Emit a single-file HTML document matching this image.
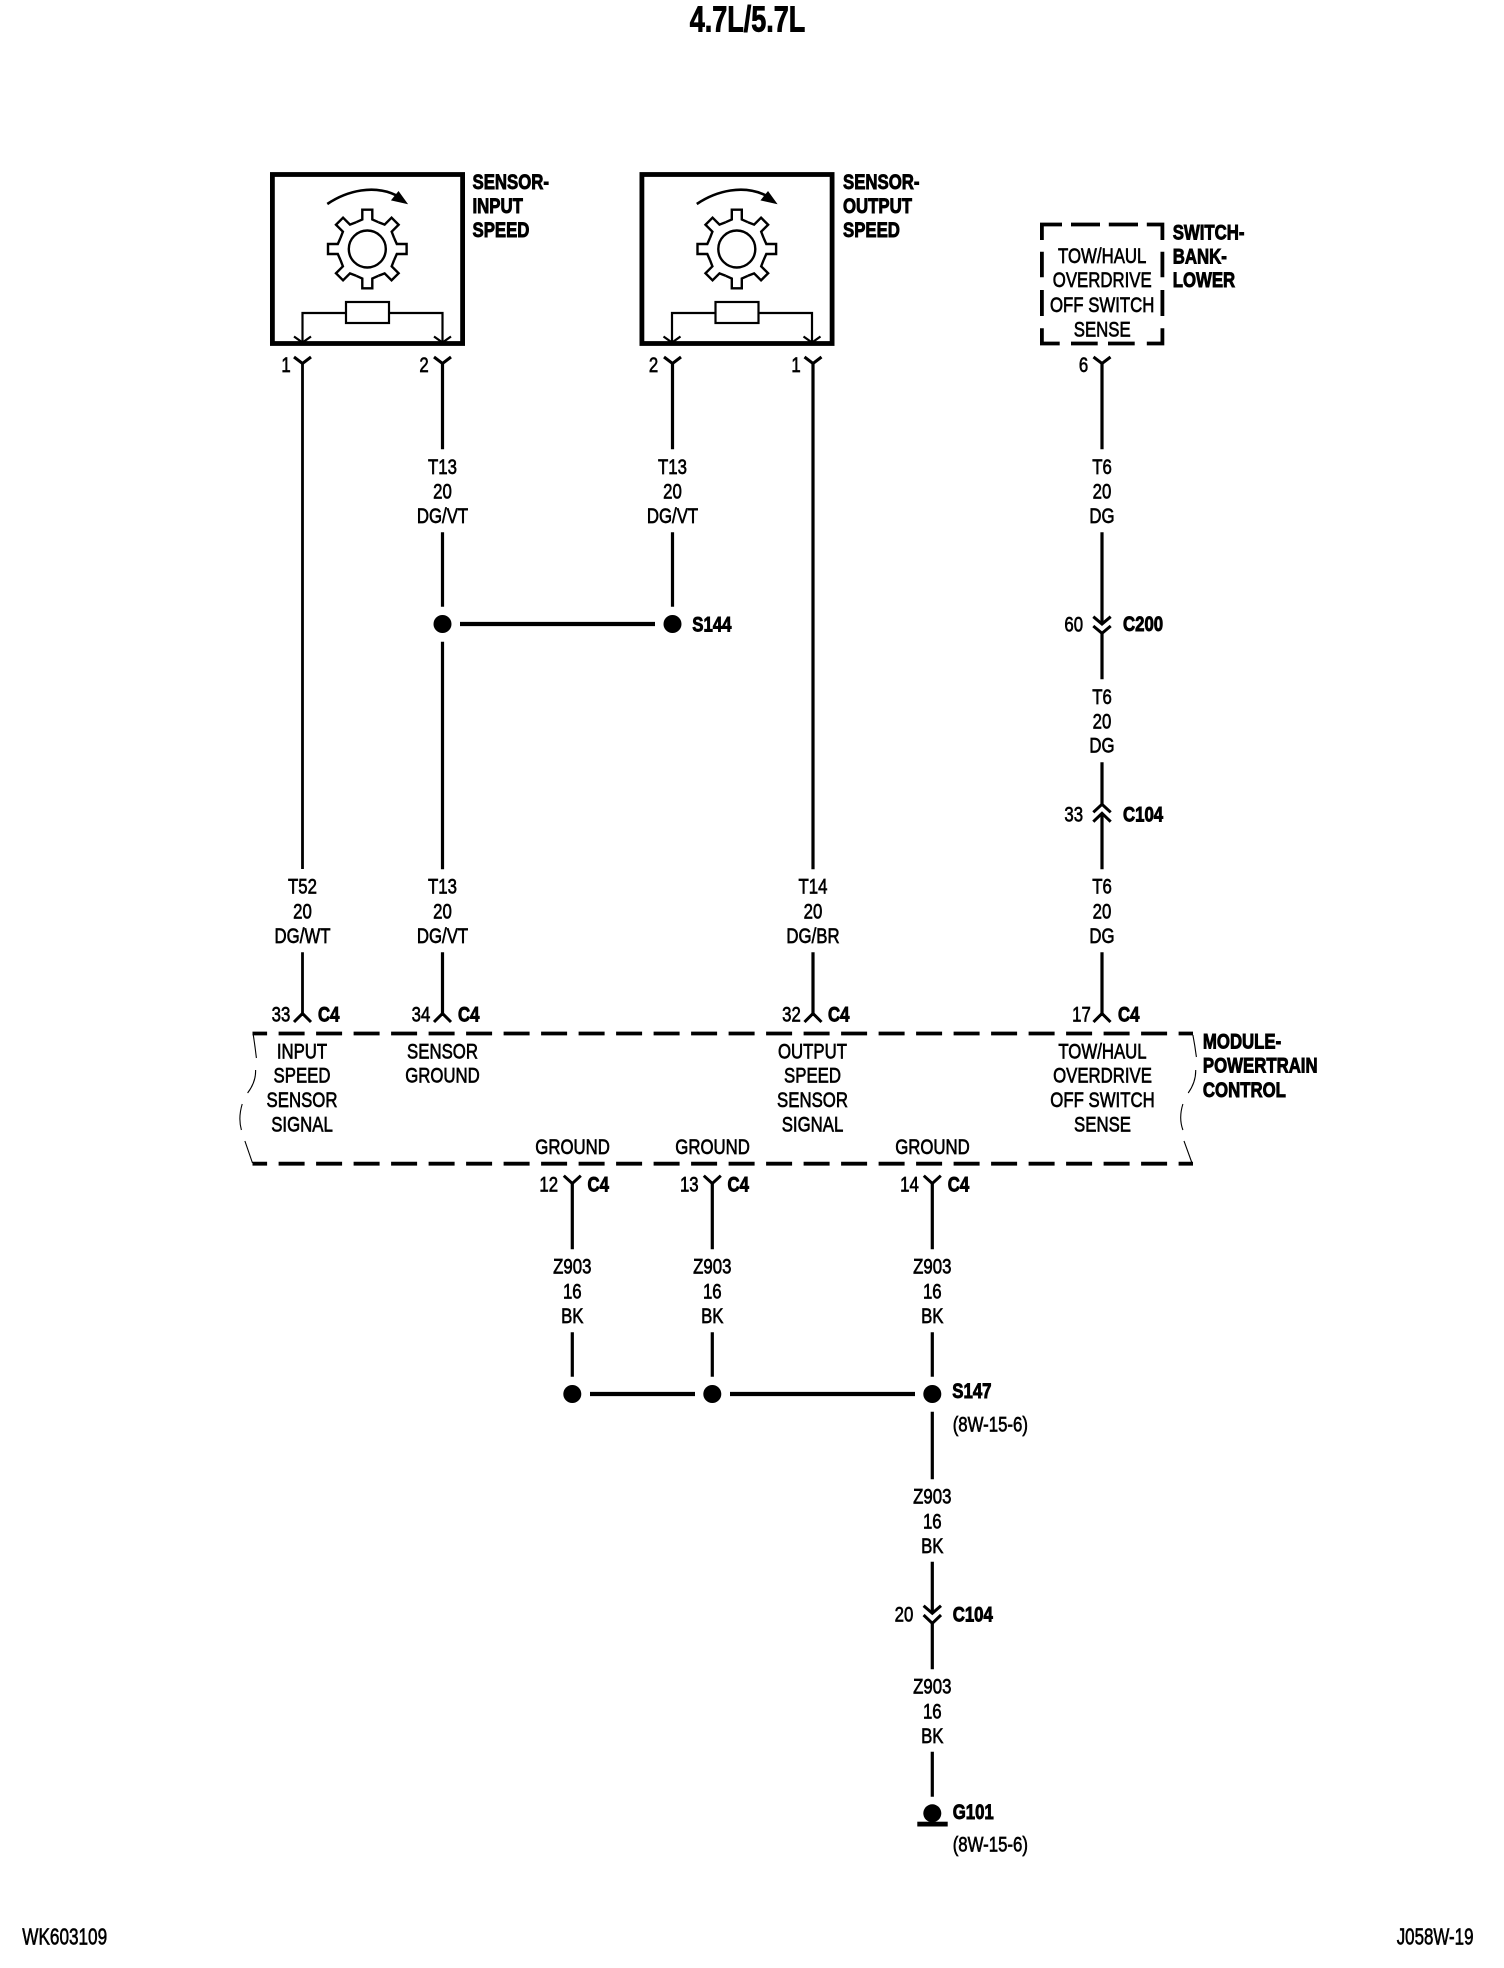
<!DOCTYPE html>
<html><head><meta charset="utf-8"><title>4.7L/5.7L</title>
<style>
html,body{margin:0;padding:0;background:#fff}
svg{display:block}
text{font-family:"Liberation Sans",sans-serif;font-size:21px;fill:#000;text-anchor:middle;stroke:#000;stroke-width:.65px}
.b{font-weight:bold;stroke-width:.9px}
.s{text-anchor:start}
.w{fill:none;stroke:#000;stroke-width:3.2}
.c{fill:none;stroke:#000;stroke-width:3}
.t{fill:none;stroke:#000;stroke-width:2.2}
.d{fill:none;stroke:#000;stroke-width:3.8}
.q{fill:none;stroke:#000;stroke-width:1.1}
</style></head><body>
<svg xmlns="http://www.w3.org/2000/svg" width="1504" height="1968" viewBox="0 0 1504 1968">
<defs>
<g id="sensor">
<rect x="272.4" y="174.5" width="190.2" height="169" fill="none" stroke="#000" stroke-width="4.8"/>
<path d="M327.3 204C345 192 375 182 401 198" fill="none" stroke="#000" stroke-width="2.6"/>
<path d="M406.7 203.3L398.5 192L392 200Z" fill="#000" stroke="#000" stroke-width="1.2"/>
<g transform="translate(367.3,249)" fill="none" stroke="#000" stroke-width="2.4">
<circle r="18.5"/>
<polyline points="-11.1,-26.8 -5,-29.5 -5,-39.3 5,-39.3 5,-29.5 11.1,-26.8"/>
<polyline transform="rotate(45)" points="-11.1,-26.8 -5,-29.5 -5,-39.3 5,-39.3 5,-29.5 11.1,-26.8"/>
<polyline transform="rotate(90)" points="-11.1,-26.8 -5,-29.5 -5,-39.3 5,-39.3 5,-29.5 11.1,-26.8"/>
<polyline transform="rotate(135)" points="-11.1,-26.8 -5,-29.5 -5,-39.3 5,-39.3 5,-29.5 11.1,-26.8"/>
<polyline transform="rotate(180)" points="-11.1,-26.8 -5,-29.5 -5,-39.3 5,-39.3 5,-29.5 11.1,-26.8"/>
<polyline transform="rotate(225)" points="-11.1,-26.8 -5,-29.5 -5,-39.3 5,-39.3 5,-29.5 11.1,-26.8"/>
<polyline transform="rotate(270)" points="-11.1,-26.8 -5,-29.5 -5,-39.3 5,-39.3 5,-29.5 11.1,-26.8"/>
<polyline transform="rotate(315)" points="-11.1,-26.8 -5,-29.5 -5,-39.3 5,-39.3 5,-29.5 11.1,-26.8"/>
</g>
<rect x="346" y="302" width="43" height="21" class="t"/>
<path d="M346 313H302.5V342M389 313H442.5V342" class="t"/>
<path d="M294 336.5L302.5 342.5L311 336.5M434 336.5L442.5 342.5L451 336.5" class="t"/>
</g>
</defs>

<text class="b" style="font-size:36px" transform="matrix(.75 0 0 1 747.5 31.5)">4.7L/5.7L</text>

<use href="#sensor"/>
<use href="#sensor" transform="translate(369.5,0)"/>

<g transform="translate(0,-1)">
<text class="b s" transform="matrix(.8 0 0 1 472.5 190)">SENSOR-</text>
<text class="b s" transform="matrix(.8 0 0 1 472.5 214)">INPUT</text>
<text class="b s" transform="matrix(.8 0 0 1 472.5 238)">SPEED</text>
<text class="b s" transform="matrix(.8 0 0 1 843 190)">SENSOR-</text>
<text class="b s" transform="matrix(.8 0 0 1 843 214)">OUTPUT</text>
<text class="b s" transform="matrix(.8 0 0 1 843 238)">SPEED</text>
</g>

<!-- switch bank dashed box -->
<path class="d" d="M1041.9 240V224.5H1062M1071 224.5H1100M1108.8 224.5H1138M1146.8 224.5H1162.4V240M1041.9 251.7V277.3M1041.9 290V316M1041.9 328.3V343.5H1059.7M1071 343.5H1097.7M1108 343.5H1134.7M1146.8 343.5H1162.4V328.3M1162.4 251.7V277.3M1162.4 290V316"/>
<g transform="translate(0,-1)">
<text transform="matrix(.8 0 0 1 1102.2 264)">TOW/HAUL</text>
<text transform="matrix(.8 0 0 1 1102.2 288)">OVERDRIVE</text>
<text transform="matrix(.8 0 0 1 1102.2 313)">OFF SWITCH</text>
<text transform="matrix(.8 0 0 1 1102.2 337.5)">SENSE</text>
<text class="b s" transform="matrix(.8 0 0 1 1172.7 240.7)">SWITCH-</text>
<text class="b s" transform="matrix(.8 0 0 1 1172.7 264.7)">BANK-</text>
<text class="b s" transform="matrix(.8 0 0 1 1172.7 288)">LOWER</text>
</g>

<!-- top connectors -->
<path class="c" d="M294 357L302.5 363.5L311 357M434 357L442.5 363.5L451 357M664 357L672.5 363.5L681 357M804.5 357L813 363.5L821.5 357M1093.5 357L1102 363.5L1110.5 357"/>
<text transform="matrix(.8 0 0 1 286 372)">1</text>
<text transform="matrix(.8 0 0 1 424 372)">2</text>
<text transform="matrix(.8 0 0 1 653.5 372)">2</text>
<text transform="matrix(.8 0 0 1 796 372)">1</text>
<text transform="matrix(.8 0 0 1 1083.5 372)">6</text>

<!-- wires -->
<path class="w" style="stroke-width:2.8" d="M302.5 363V869M302.5 952.3V1013.5"/>
<path class="w" d="M442.5 363V449.3M442.5 532.3V606.7M442.5 641.7V869.3M442.5 952.3V1013.5"/>
<path class="w" d="M672.5 363V449.3M672.5 532.3V606.7"/>
<path class="w" d="M813 363V869.3M813 952.3V1013.5"/>
<path class="w" d="M1102 363V449.3M1102 532.3V624M1102 633V679.3M1102 762.3V804M1102 813.5V869.3M1102 952.3V1013.5"/>
<path class="w" style="stroke-width:4.2" d="M460 624H655"/>
<circle cx="442.5" cy="624" r="9"/>
<circle cx="672.5" cy="624" r="9"/>
<text class="b s" transform="matrix(.8 0 0 1 692.3 631.5)">S144</text>

<!-- wire labels upper -->
<text transform="matrix(.8 0 0 1 442.5 474)">T13</text>
<text transform="matrix(.8 0 0 1 442.5 498.5)">20</text>
<text transform="matrix(.8 0 0 1 442.5 523)">DG/VT</text>
<text transform="matrix(.8 0 0 1 672.5 474)">T13</text>
<text transform="matrix(.8 0 0 1 672.5 498.5)">20</text>
<text transform="matrix(.8 0 0 1 672.5 523)">DG/VT</text>
<text transform="matrix(.8 0 0 1 1102 474)">T6</text>
<text transform="matrix(.8 0 0 1 1102 498.5)">20</text>
<text transform="matrix(.8 0 0 1 1102 523)">DG</text>

<!-- C200 / C104 inline -->
<path class="c" d="M1093.3 616.7L1102 624L1110.7 616.7M1093.3 626L1102 633.3L1110.7 626"/>
<text transform="matrix(.8 0 0 1 1073.7 631.5)">60</text>
<text class="b s" transform="matrix(.8 0 0 1 1123 631)">C200</text>
<text transform="matrix(.8 0 0 1 1102 704)">T6</text>
<text transform="matrix(.8 0 0 1 1102 728.5)">20</text>
<text transform="matrix(.8 0 0 1 1102 752.5)">DG</text>
<path class="c" d="M1093.3 812.3L1102 804.3L1110.7 812.3M1093.3 821.7L1102 813.3L1110.7 821.7"/>
<text transform="matrix(.8 0 0 1 1073.7 821.5)">33</text>
<text class="b s" transform="matrix(.8 0 0 1 1123 821.5)">C104</text>

<!-- wire labels lower -->
<g transform="translate(0,-.7)">
<text transform="matrix(.8 0 0 1 302.5 894)">T52</text>
<text transform="matrix(.8 0 0 1 302.5 919)">20</text>
<text transform="matrix(.8 0 0 1 302.5 943.5)">DG/WT</text>
<text transform="matrix(.8 0 0 1 442.5 894)">T13</text>
<text transform="matrix(.8 0 0 1 442.5 919)">20</text>
<text transform="matrix(.8 0 0 1 442.5 943.5)">DG/VT</text>
<text transform="matrix(.8 0 0 1 813 894)">T14</text>
<text transform="matrix(.8 0 0 1 813 919)">20</text>
<text transform="matrix(.8 0 0 1 813 943.5)">DG/BR</text>
<text transform="matrix(.8 0 0 1 1102 894)">T6</text>
<text transform="matrix(.8 0 0 1 1102 919)">20</text>
<text transform="matrix(.8 0 0 1 1102 943.5)">DG</text>
</g>

<!-- C4 top connectors -->
<path class="c" d="M294 1022L302.5 1013.5L311 1022M434 1022L442.5 1013.5L451 1022M804.5 1022L813 1013.5L821.5 1022M1093.5 1022L1102 1013.5L1110.5 1022"/>
<text transform="matrix(.8 0 0 1 281 1021.5)">33</text>
<text class="b s" transform="matrix(.8 0 0 1 318 1021.5)">C4</text>
<text transform="matrix(.8 0 0 1 421 1021.5)">34</text>
<text class="b s" transform="matrix(.8 0 0 1 458 1021.5)">C4</text>
<text transform="matrix(.8 0 0 1 791.5 1021.5)">32</text>
<text class="b s" transform="matrix(.8 0 0 1 828 1021.5)">C4</text>
<text transform="matrix(.8 0 0 1 1081.5 1021.5)">17</text>
<text class="b s" transform="matrix(.8 0 0 1 1118 1021.5)">C4</text>

<!-- PCM dashed box -->
<path class="d" stroke-dasharray="26 11.5" stroke-dashoffset="11.4" d="M252.5 1033.5H1193"/>
<path class="d" stroke-dasharray="26 11.5" stroke-dashoffset="11.4" d="M252.5 1163.7H1193"/>
<path class="q" d="M253.3 1035Q255 1046 256.4 1058M255.6 1070Q256 1082 247.6 1093M242.2 1104Q238 1118 241.4 1130M244.9 1141L252.5 1163"/>
<path class="q" d="M1192.9 1035Q1195 1046 1196.4 1057M1195.7 1070Q1196 1082 1188.2 1093M1182.9 1104Q1178.5 1118 1182.9 1130M1184 1141L1192 1163"/>

<g transform="translate(0,-1)">
<text transform="matrix(.8 0 0 1 302 1059.5)">INPUT</text>
<text transform="matrix(.8 0 0 1 302 1083.5)">SPEED</text>
<text transform="matrix(.8 0 0 1 302 1108)">SENSOR</text>
<text transform="matrix(.8 0 0 1 302 1132.5)">SIGNAL</text>
<text transform="matrix(.8 0 0 1 442.5 1059.5)">SENSOR</text>
<text transform="matrix(.8 0 0 1 442.5 1083.5)">GROUND</text>
<text transform="matrix(.8 0 0 1 812.5 1059.5)">OUTPUT</text>
<text transform="matrix(.8 0 0 1 812.5 1083.5)">SPEED</text>
<text transform="matrix(.8 0 0 1 812.5 1108)">SENSOR</text>
<text transform="matrix(.8 0 0 1 812.5 1132.5)">SIGNAL</text>
<text transform="matrix(.8 0 0 1 1102.5 1059.5)">TOW/HAUL</text>
<text transform="matrix(.8 0 0 1 1102.5 1083.5)">OVERDRIVE</text>
<text transform="matrix(.8 0 0 1 1102.5 1108)">OFF SWITCH</text>
<text transform="matrix(.8 0 0 1 1102.5 1132.5)">SENSE</text>
<text transform="matrix(.8 0 0 1 572.6 1155.2)">GROUND</text>
<text transform="matrix(.8 0 0 1 712.6 1155.2)">GROUND</text>
<text transform="matrix(.8 0 0 1 932.5 1155.2)">GROUND</text>
<text class="b s" transform="matrix(.8 0 0 1 1202.9 1049.5)">MODULE-</text>
<text class="b s" transform="matrix(.8 0 0 1 1202.9 1073.5)">POWERTRAIN</text>
<text class="b s" transform="matrix(.8 0 0 1 1202.9 1098)">CONTROL</text>
</g>

<!-- ground connectors -->
<path class="c" d="M563.8 1175.7L572.3 1183.5L580.8 1175.7M703.8 1175.7L712.3 1183.5L720.8 1175.7M923.8 1175.7L932.3 1183.5L940.8 1175.7"/>
<text transform="matrix(.8 0 0 1 548.7 1191.5)">12</text>
<text class="b s" transform="matrix(.8 0 0 1 587.5 1191.5)">C4</text>
<text transform="matrix(.8 0 0 1 689.3 1191.5)">13</text>
<text class="b s" transform="matrix(.8 0 0 1 727.5 1191.5)">C4</text>
<text transform="matrix(.8 0 0 1 909.5 1191.5)">14</text>
<text class="b s" transform="matrix(.8 0 0 1 947.7 1191.5)">C4</text>

<path class="w" d="M572.3 1183V1249.3M572.3 1332.3V1376.7M712.3 1183V1249.3M712.3 1332.3V1376.7M932.3 1183V1249.3M932.3 1332.3V1376.7M932.3 1411.7V1479.3M932.3 1561.7V1613M932.3 1623V1669.3M932.3 1751.7V1796.7"/>
<g transform="translate(0,-.7)">
<text transform="matrix(.8 0 0 1 572.3 1274)">Z903</text>
<text transform="matrix(.8 0 0 1 572.3 1299)">16</text>
<text transform="matrix(.8 0 0 1 572.3 1323.5)">BK</text>
<text transform="matrix(.8 0 0 1 712.3 1274)">Z903</text>
<text transform="matrix(.8 0 0 1 712.3 1299)">16</text>
<text transform="matrix(.8 0 0 1 712.3 1323.5)">BK</text>
<text transform="matrix(.8 0 0 1 932.3 1274)">Z903</text>
<text transform="matrix(.8 0 0 1 932.3 1299)">16</text>
<text transform="matrix(.8 0 0 1 932.3 1323.5)">BK</text>
</g>

<path class="w" style="stroke-width:4.2" d="M590 1394H695M730 1394H915"/>
<circle cx="572.3" cy="1394" r="9"/>
<circle cx="712.3" cy="1394" r="9"/>
<circle cx="932.3" cy="1394" r="9"/>
<text class="b s" transform="matrix(.8 0 0 1 952.3 1398)">S147</text>
<text class="s" transform="matrix(.8 0 0 1 952.7 1431.5)">(8W-15-6)</text>

<g transform="translate(0,-.7)">
<text transform="matrix(.8 0 0 1 932.3 1504)">Z903</text>
<text transform="matrix(.8 0 0 1 932.3 1529)">16</text>
<text transform="matrix(.8 0 0 1 932.3 1553.5)">BK</text>
</g>
<path class="c" d="M923.6 1605.7L932.3 1613.3L941 1605.7M923.6 1615L932.3 1623.3L941 1615"/>
<text transform="matrix(.8 0 0 1 904 1621.5)">20</text>
<text class="b s" transform="matrix(.8 0 0 1 952.7 1621.5)">C104</text>
<g transform="translate(0,-.7)">
<text transform="matrix(.8 0 0 1 932.3 1694)">Z903</text>
<text transform="matrix(.8 0 0 1 932.3 1719)">16</text>
<text transform="matrix(.8 0 0 1 932.3 1743.5)">BK</text>
</g>

<circle cx="932.3" cy="1813.3" r="9"/>
<rect x="917.3" y="1821.7" width="30.4" height="4.8"/>
<text class="b s" transform="matrix(.8 0 0 1 952.7 1819)">G101</text>
<text class="s" transform="matrix(.8 0 0 1 952.7 1851.5)">(8W-15-6)</text>

<text class="s" style="font-size:23.5px" transform="matrix(.73 0 0 1 22.3 1944.5)">WK603109</text>
<text class="s" style="font-size:23.5px" transform="matrix(.72 0 0 1 1396.7 1944.5)">J058W-19</text>
</svg>
</body></html>
